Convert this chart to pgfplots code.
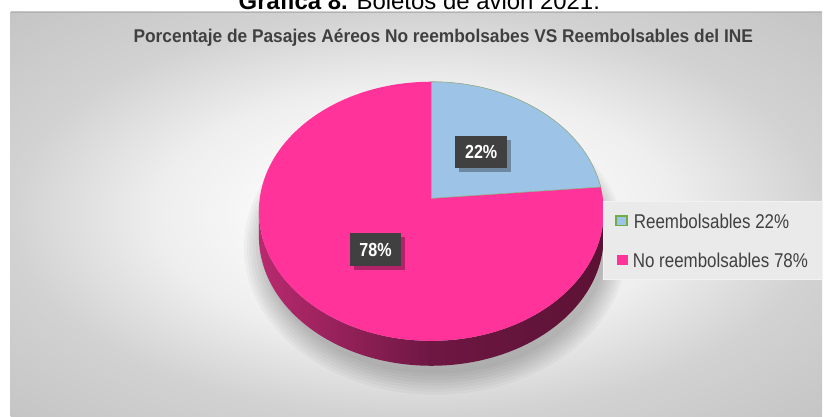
\documentclass[border=0pt]{standalone}
\usepackage{pgfplots}
\pgfplotsset{compat=1.18}
\usepackage{pgfplotstable}
\usepackage{fontspec}
\setmainfont{Liberation Sans}
\newfontfamily\narrow[FakeStretch=0.85]{Liberation Sans}
\newfontfamily\titlefont[FakeStretch=0.94]{Liberation Sans}

\definecolor{bgedge}{HTML}{C4C4C4}
\definecolor{bgmid}{HTML}{D2D2D2}
\definecolor{bglight}{HTML}{EEEEEE}
\definecolor{piepink}{HTML}{FF3399}
\definecolor{pieblue}{HTML}{9DC3E6}
\definecolor{wedgeedge}{HTML}{8FB38A}
\definecolor{legendgreen}{HTML}{70AD47}
\definecolor{sideL}{HTML}{B82A6E}
\definecolor{sideM}{HTML}{6E1743}
\definecolor{sideR}{HTML}{5C1234}
\definecolor{lblbg}{HTML}{404040}
\definecolor{txtgray}{HTML}{404040}
\definecolor{legbg}{HTML}{EAEAEA}

\pgfdeclareradialshading{bgshade}{\pgfpoint{0bp}{0bp}}{color(0bp)=(white); color(5bp)=(white); color(16bp)=(bglight); color(25bp)=(bgmid); color(36bp)=(bgedge); color(50bp)=(bgedge)}

\pgfplotstableread{
label value
Reembolsables 22
NoReembolsables 78
}\piedata

\begin{document}
\pgfplotstablegetelem{0}{value}\of\piedata
\let\valA\pgfplotsretval
\pgfplotstablegetelem{1}{value}\of\piedata
\let\valB\pgfplotsretval
\pgfmathsetmacro\endang{90-3.6*\valA}
\begin{tikzpicture}
\useasboundingbox (0,0) rectangle (825pt,418pt);
\clip (0,0) rectangle (825pt,418pt);
\begin{axis}[at={(0pt,0pt)}, anchor=south west, scale only axis,
  width=825pt, height=418pt, xmin=0, xmax=825, ymin=0, ymax=418,
  y dir=reverse, axis lines=none, clip=false]
% background
\shade[shading=bgshade] (axis cs:8,12) rectangle (axis cs:822,418);
\draw[black!30, line width=0.8pt] (axis cs:8,12) -- (axis cs:822,12);
% top caption (cut off at the top, as in the reference)
\node[anchor=base, font=\fontsize{24}{24}\selectfont, inner sep=0pt] at (axis cs:418,10) {\textbf{Gráfica 8.} Boletos de avión 2021.};
% chart title
\node[anchor=base, text=txtgray, font=\titlefont\bfseries\fontsize{18.5}{18.5}\selectfont, inner sep=0pt] at (axis cs:442,43) {Porcentaje de Pasajes Aéreos No reembolsabes VS Reembolsables del INE};
% pie shadow
\fill[black, opacity=0.03] (axis cs:434,248) ellipse [x radius=192pt, y radius=148pt];
\fill[black, opacity=0.03] (axis cs:434,248) ellipse [x radius=189pt, y radius=145pt];
\fill[black, opacity=0.03] (axis cs:434,248) ellipse [x radius=186pt, y radius=142pt];
\fill[black, opacity=0.03] (axis cs:434,248) ellipse [x radius=183pt, y radius=139pt];
\fill[black, opacity=0.03] (axis cs:434,248) ellipse [x radius=180pt, y radius=136pt];
\fill[black, opacity=0.03] (axis cs:434,248) ellipse [x radius=177pt, y radius=133pt];
\fill[black, opacity=0.03] (axis cs:434,248) ellipse [x radius=174pt, y radius=130pt];
\fill[black, opacity=0.03] (axis cs:434,248) ellipse [x radius=171pt, y radius=127pt];
% pie side
\shade[left color=sideL, right color=sideR, middle color=sideM] (axis cs:257,212) arc[start angle=180, end angle=360, x radius=173pt, y radius=130pt] -- (axis cs:603,237) arc[start angle=0, end angle=-180, x radius=173pt, y radius=130pt] -- cycle;
% top face
\fill[piepink] (axis cs:430,212) ellipse [x radius=173pt, y radius=130pt];
\filldraw[fill=pieblue, draw=wedgeedge, line width=0.6pt] (axis cs:430,199) -- (axis cs:430,82) arc[start angle=90, end angle=\endang, x radius=173pt, y radius=130pt] -- cycle;
% data labels
\fill[black, opacity=0.3] (axis cs:458,140) rectangle (axis cs:510,173);
\node[fill=lblbg, text=white, font=\narrow\bfseries\fontsize{19}{19}\selectfont, minimum width=52pt, minimum height=33pt, inner sep=0pt] at (axis cs:480,152.5) {\valA\%};
\fill[black, opacity=0.3] (axis cs:352,238) rectangle (axis cs:404,271);
\node[fill=lblbg, text=white, font=\narrow\bfseries\fontsize{19}{19}\selectfont, minimum width=52pt, minimum height=33pt, inner sep=0pt] at (axis cs:374,250.5) {\valB\%};
% legend
\filldraw[fill=legbg, draw=white!95!black, line width=0.6pt] (axis cs:603,202) rectangle (axis cs:822,280);
\filldraw[fill=pieblue, draw=legendgreen, line width=1.5pt] (axis cs:615.5,216.5) rectangle (axis cs:626.5,226.5);
\fill[piepink] (axis cs:616,256) rectangle (axis cs:627,266);
\node[anchor=base west, text=txtgray, font=\narrow\fontsize{20}{20}\selectfont, inner sep=0pt] at (axis cs:633,229) {Reembolsables \valA\%};
\node[anchor=base west, text=txtgray, font=\narrow\fontsize{20}{20}\selectfont, inner sep=0pt] at (axis cs:632,268) {No reembolsables \valB\%};
\end{axis}
\end{tikzpicture}
\end{document}
